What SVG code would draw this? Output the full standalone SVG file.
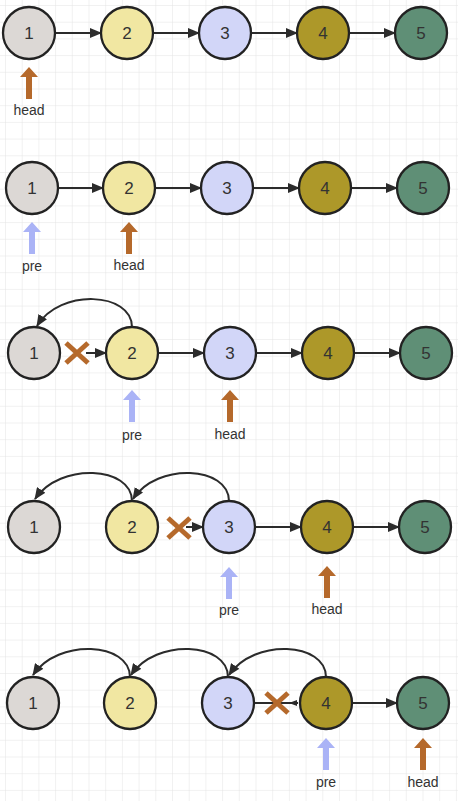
<svg xmlns="http://www.w3.org/2000/svg" width="458" height="801" viewBox="0 0 458 801">
  <defs>
    <pattern id="grid" x="5" y="5" width="16.7" height="16.7" patternUnits="userSpaceOnUse">
      <path d="M16.7 0 L0 0 L0 16.7" fill="none" stroke="#e4e4e4" stroke-width="1"/>
    </pattern>
    <marker id="ah" viewBox="0 0 12 10" refX="11" refY="5" markerWidth="12" markerHeight="10" markerUnits="userSpaceOnUse" orient="auto">
      <path d="M0 0 L12 5 L0 10 Z" fill="#2b2b2b"/>
    </marker>
    <marker id="ahs" viewBox="0 0 8 6" refX="7" refY="3" markerWidth="8" markerHeight="6" markerUnits="userSpaceOnUse" orient="auto">
      <path d="M0 0 L8 3 L0 6 Z" fill="#2b2b2b"/>
    </marker>
    <!-- pointer arrows, drawn pointing up with tip at origin -->
    <polygon id="up" points="0,0 -9,10 -3,10 -3,32 3,32 3,10 9,10"/>
    <g id="cross">
      <path d="M-11 -10 L11 10 M11 -10 L-11 10" stroke="#b5692b" stroke-width="5" stroke-linecap="butt"/>
    </g>
  </defs>
  <style>
    .n { stroke: #222; stroke-width: 2.3; }
    .c1 { fill: #dcd8d5; }
    .c2 { fill: #f1e7a2; }
    .c3 { fill: #d2d6f8; }
    .c4 { fill: #ad9829; }
    .c5 { fill: #5f8f76; }
    .t { font-family: "Liberation Sans", Arial, sans-serif; font-size: 17px; fill: #333; text-anchor: middle; dominant-baseline: central; }
    .lbl { font-family: "Liberation Sans", Arial, sans-serif; font-size: 14px; fill: #333; text-anchor: middle; }
    .e { stroke: #2b2b2b; stroke-width: 2; fill: none; marker-end: url(#ah); }
    .head { fill: #b5692b; }
    .pre { fill: #aab3f6; }
  </style>

  <rect width="458" height="801" fill="#ffffff"/>
  <rect width="458" height="801" fill="url(#grid)"/>

  <!-- connectors -->
  <g id="connectors">
    <!-- row 1 -->
    <line class="e" x1="55" y1="33" x2="101" y2="33"/>
    <line class="e" x1="153" y1="33" x2="199" y2="33"/>
    <line class="e" x1="251" y1="33" x2="297" y2="33"/>
    <line class="e" x1="349" y1="33" x2="395" y2="33"/>
    <!-- row 2 -->
    <line class="e" x1="58" y1="188" x2="103" y2="188"/>
    <line class="e" x1="155" y1="188" x2="201" y2="188"/>
    <line class="e" x1="253" y1="188" x2="299" y2="188"/>
    <line class="e" x1="351" y1="188" x2="397" y2="188"/>
    <!-- row 3 -->
    <line class="e" x1="86" y1="353" x2="106" y2="353"/>
    <line class="e" x1="158" y1="353" x2="204" y2="353"/>
    <line class="e" x1="256" y1="353" x2="302" y2="353"/>
    <line class="e" x1="354" y1="353" x2="400" y2="353"/>
    <path class="e" d="M132 327 C132 292 60 288 37 326"/>
    <use href="#cross" x="77" y="353"/>
    <!-- row 4 -->
    <line class="e" x1="186" y1="527" x2="203" y2="527"/>
    <line class="e" x1="255" y1="527" x2="301" y2="527"/>
    <line class="e" x1="353" y1="527" x2="399" y2="527"/>
    <path class="e" d="M132 501 C132 466 60 462 35 499"/>
    <path class="e" d="M229 501 C229 466 157 462 133 499"/>
    <use href="#cross" x="179" y="528"/>
    <!-- row 5 -->
    <line x1="254" y1="703" x2="296" y2="703" stroke="#2b2b2b" stroke-width="2"/>
    <line x1="298" y1="703" x2="290" y2="703" stroke="#2b2b2b" stroke-width="2" marker-end="url(#ahs)"/>
    <line class="e" x1="352" y1="703" x2="397" y2="703"/>
    <path class="e" d="M130 677 C130 642 58 638 33 675"/>
    <path class="e" d="M228 677 C228 642 156 638 131 675"/>
    <path class="e" d="M326 677 C326 642 254 638 229 675"/>
    <use href="#cross" x="277" y="703"/>
  </g>

  <!-- row 1 nodes -->
  <g id="r1n1"><circle class="n c1" cx="29" cy="33" r="26"/><text class="t" x="29" y="33">1</text></g>
  <g id="r1n2"><circle class="n c2" cx="127" cy="33" r="26"/><text class="t" x="127" y="33">2</text></g>
  <g id="r1n3"><circle class="n c3" cx="225" cy="33" r="26"/><text class="t" x="225" y="33">3</text></g>
  <g id="r1n4"><circle class="n c4" cx="323" cy="33" r="26"/><text class="t" x="323" y="33">4</text></g>
  <g id="r1n5"><circle class="n c5" cx="421" cy="33" r="26"/><text class="t" x="421" y="33">5</text></g>
  <g id="r1head"><use href="#up" class="head" x="29" y="67"/><text class="lbl" x="29" y="115">head</text></g>

  <!-- row 2 nodes -->
  <g id="r2n1"><circle class="n c1" cx="32" cy="188" r="26"/><text class="t" x="32" y="188">1</text></g>
  <g id="r2n2"><circle class="n c2" cx="129" cy="188" r="26"/><text class="t" x="129" y="188">2</text></g>
  <g id="r2n3"><circle class="n c3" cx="227" cy="188" r="26"/><text class="t" x="227" y="188">3</text></g>
  <g id="r2n4"><circle class="n c4" cx="325" cy="188" r="26"/><text class="t" x="325" y="188">4</text></g>
  <g id="r2n5"><circle class="n c5" cx="423" cy="188" r="26"/><text class="t" x="423" y="188">5</text></g>
  <g id="r2pre"><use href="#up" class="pre" x="32" y="222"/><text class="lbl" x="32" y="271">pre</text></g>
  <g id="r2head"><use href="#up" class="head" x="129" y="222"/><text class="lbl" x="129" y="270">head</text></g>

  <!-- row 3 nodes -->
  <g id="r3n1"><circle class="n c1" cx="34" cy="353" r="26"/><text class="t" x="34" y="353">1</text></g>
  <g id="r3n2"><circle class="n c2" cx="132" cy="353" r="26"/><text class="t" x="132" y="353">2</text></g>
  <g id="r3n3"><circle class="n c3" cx="230" cy="353" r="26"/><text class="t" x="230" y="353">3</text></g>
  <g id="r3n4"><circle class="n c4" cx="328" cy="353" r="26"/><text class="t" x="328" y="353">4</text></g>
  <g id="r3n5"><circle class="n c5" cx="426" cy="353" r="26"/><text class="t" x="426" y="353">5</text></g>
  <g id="r3pre"><use href="#up" class="pre" x="132" y="390"/><text class="lbl" x="132" y="440">pre</text></g>
  <g id="r3head"><use href="#up" class="head" x="230" y="390"/><text class="lbl" x="230" y="439">head</text></g>

  <!-- row 4 nodes -->
  <g id="r4n1"><circle class="n c1" cx="34" cy="527" r="26"/><text class="t" x="34" y="527">1</text></g>
  <g id="r4n2"><circle class="n c2" cx="132" cy="527" r="26"/><text class="t" x="132" y="527">2</text></g>
  <g id="r4n3"><circle class="n c3" cx="229" cy="527" r="26"/><text class="t" x="229" y="527">3</text></g>
  <g id="r4n4"><circle class="n c4" cx="327" cy="527" r="26"/><text class="t" x="327" y="527">4</text></g>
  <g id="r4n5"><circle class="n c5" cx="425" cy="527" r="26"/><text class="t" x="425" y="527">5</text></g>
  <g id="r4pre"><use href="#up" class="pre" x="229" y="567"/><text class="lbl" x="229" y="615">pre</text></g>
  <g id="r4head"><use href="#up" class="head" x="327" y="566"/><text class="lbl" x="327" y="614">head</text></g>

  <!-- row 5 nodes -->
  <g id="r5n1"><circle class="n c1" cx="33" cy="703" r="26"/><text class="t" x="33" y="703">1</text></g>
  <g id="r5n2"><circle class="n c2" cx="130" cy="703" r="26"/><text class="t" x="130" y="703">2</text></g>
  <g id="r5n3"><circle class="n c3" cx="228" cy="703" r="26"/><text class="t" x="228" y="703">3</text></g>
  <g id="r5n4"><circle class="n c4" cx="326" cy="703" r="26"/><text class="t" x="326" y="703">4</text></g>
  <g id="r5n5"><circle class="n c5" cx="423" cy="703" r="26"/><text class="t" x="423" y="703">5</text></g>
  <g id="r5pre"><use href="#up" class="pre" x="326" y="738"/><text class="lbl" x="326" y="787">pre</text></g>
  <g id="r5head"><use href="#up" class="head" x="423" y="738"/><text class="lbl" x="423" y="787">head</text></g>
</svg>
